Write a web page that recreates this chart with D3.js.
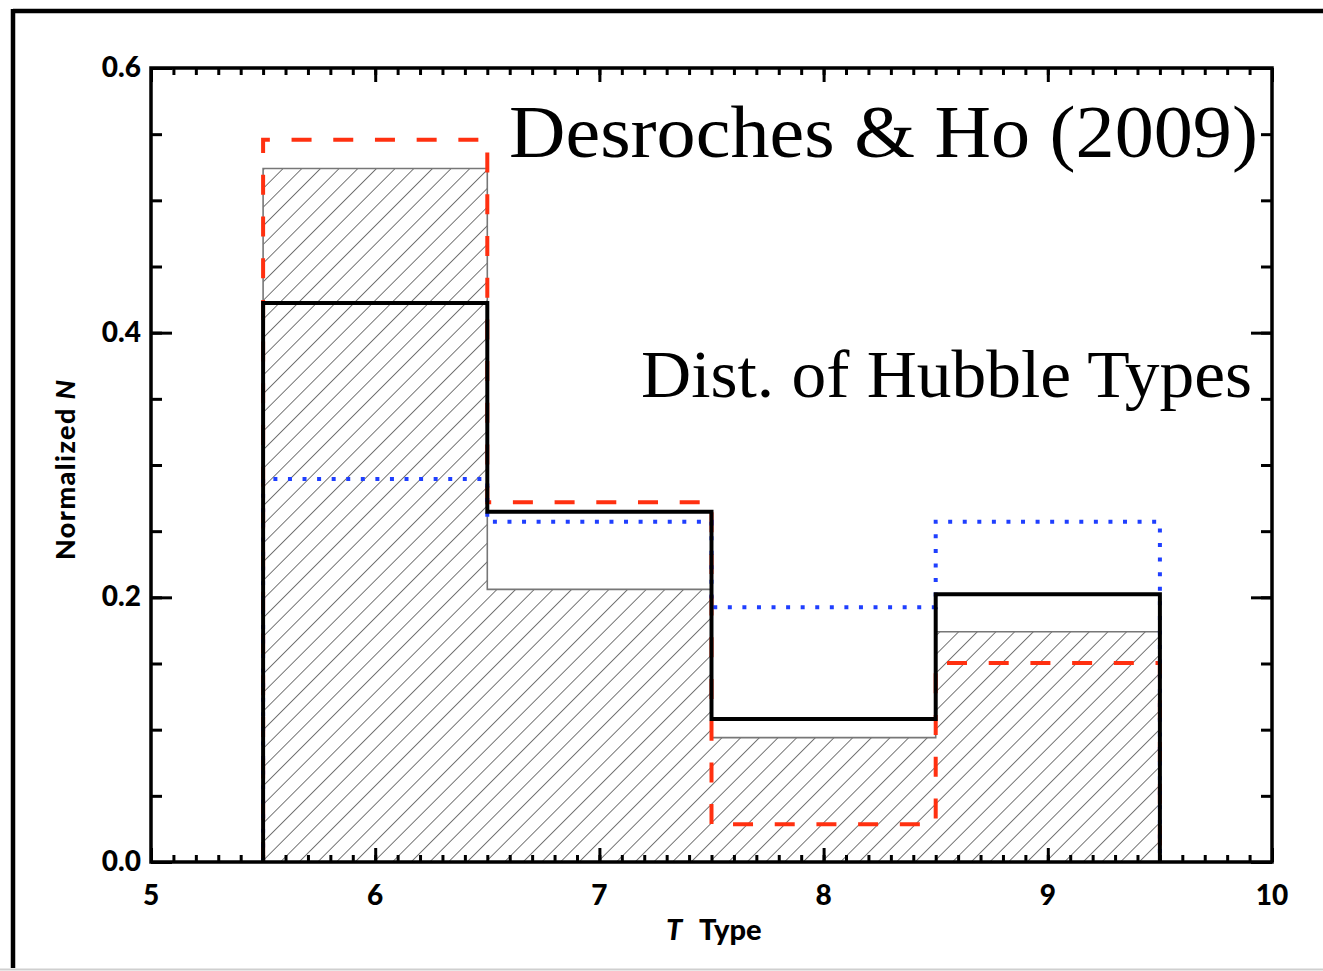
<!DOCTYPE html>
<html>
<head>
<meta charset="utf-8">
<script src="https://cdn.jsdelivr.net/npm/d3@7"></script>
<style>
  html, body { margin: 0; padding: 0; background: #fff; }
  svg { display: block; }
</style>
</head>
<body>
<svg id="chart" width="1323" height="971"></svg>
<script>
// Histogram bins (T type), one unit wide, centred on integers
const binCenters = [6, 7, 8, 9];
// Normalized counts per bin for each sample
const hatchedValues = [0.524, 0.206, 0.094, 0.174];
const solidValues   = [0.4225, 0.2647, 0.1081, 0.2023];
const dashedValues  = [0.5457, 0.2718, 0.0285, 0.1504];
const dottedValues  = [0.2895, 0.2572, 0.1925, 0.2572];
// Axis ticks
const xTickValues = [5, 6, 7, 8, 9, 10];
const xTickLabels = ["5", "6", "7", "8", "9", "10"];
const yTickValues = [0.0, 0.2, 0.4, 0.6];
const yTickLabels = ["0.0", "0.2", "0.4", "0.6"];

const svg = d3.select("#chart");
const W = 1323, H = 971;
const plot = { left: 151, right: 1272, top: 68, bottom: 862 };

const x = d3.scaleLinear().domain([5, 10]).range([plot.left, plot.right]);
const y = d3.scaleLinear().domain([0, 0.6]).range([plot.bottom, plot.top]);

// Outer page frame
svg.append("line").attr("x1", 13).attr("y1", 11).attr("x2", W).attr("y2", 11)
  .attr("stroke", "#000").attr("stroke-width", 4.5);
svg.append("line").attr("x1", 13).attr("y1", 9).attr("x2", 13).attr("y2", 968)
  .attr("stroke", "#000").attr("stroke-width", 4.5);
svg.append("line").attr("x1", 0).attr("y1", 969.5).attr("x2", W).attr("y2", 969.5)
  .attr("stroke", "#cfcfcf").attr("stroke-width", 2);

// Diagonal hatch fill
const defs = svg.append("defs");
const pat = defs.append("pattern")
  .attr("id", "hatch")
  .attr("patternUnits", "userSpaceOnUse")
  .attr("width", 13.2).attr("height", 13.2)
  .attr("patternTransform", "translate(3,0) rotate(45)");
pat.append("line").attr("x1", 0).attr("y1", -2).attr("x2", 0).attr("y2", 16)
  .attr("stroke", "#1a1a1a").attr("stroke-width", 1.2);

// Step outline of a histogram: from the baseline at the first edge to the baseline at the last
function stepPoints(values) {
  const pts = [[binCenters[0] - 0.5, 0]];
  values.forEach((v, i) => {
    pts.push([binCenters[i] - 0.5, v]);
    pts.push([binCenters[i] + 0.5, v]);
  });
  pts.push([binCenters[binCenters.length - 1] + 0.5, 0]);
  return pts;
}
const line = d3.line().x(d => x(d[0])).y(d => y(d[1]));

const g = svg.append("g");

// Hatched histogram (filled)
g.append("path")
  .attr("d", line(stepPoints(hatchedValues)) + "Z")
  .attr("fill", "url(#hatch)")
  .attr("stroke", "#777")
  .attr("stroke-width", 1.6);

// Dashed red histogram
g.append("path")
  .attr("d", line(stepPoints(dashedValues)))
  .attr("fill", "none")
  .attr("stroke", "#ff3010")
  .attr("stroke-width", 4)
  .attr("stroke-dasharray", "20,21.7");

// Dotted blue histogram
g.append("path")
  .attr("d", line(stepPoints(dottedValues)))
  .attr("fill", "none")
  .attr("stroke", "#1f3fff")
  .attr("stroke-width", 4)
  .attr("stroke-dasharray", "4,10.57");

// Solid black histogram
g.append("path")
  .attr("d", line(stepPoints(solidValues)))
  .attr("fill", "none")
  .attr("stroke", "#000")
  .attr("stroke-width", 4);

// Axes ticks on all four sides
const xMinor = d3.range(50, 101).map(v => v / 10);
const yMinor = d3.range(0, 13).map(v => v * 0.05);
function styleTicks(sel) {
  sel.select(".domain").remove();
  sel.selectAll(".tick line").attr("stroke", "#000").attr("stroke-width", 3);
  sel.selectAll(".tick text").remove();
}
const axes = svg.append("g");
axes.append("g").attr("transform", `translate(0,${plot.bottom})`)
  .call(d3.axisBottom(x).tickValues(xMinor).tickSize(-7)).call(styleTicks);
axes.append("g").attr("transform", `translate(0,${plot.bottom})`)
  .call(d3.axisBottom(x).tickValues(xTickValues).tickSize(-14)).call(styleTicks);
axes.append("g").attr("transform", `translate(0,${plot.top})`)
  .call(d3.axisTop(x).tickValues(xMinor).tickSize(-7)).call(styleTicks);
axes.append("g").attr("transform", `translate(0,${plot.top})`)
  .call(d3.axisTop(x).tickValues(xTickValues).tickSize(-14)).call(styleTicks);
axes.append("g").attr("transform", `translate(${plot.left},0)`)
  .call(d3.axisLeft(y).tickValues(yMinor).tickSize(-11)).call(styleTicks);
axes.append("g").attr("transform", `translate(${plot.left},0)`)
  .call(d3.axisLeft(y).tickValues(yTickValues).tickSize(-21)).call(styleTicks);
axes.append("g").attr("transform", `translate(${plot.right},0)`)
  .call(d3.axisRight(y).tickValues(yMinor).tickSize(-11)).call(styleTicks);
axes.append("g").attr("transform", `translate(${plot.right},0)`)
  .call(d3.axisRight(y).tickValues(yTickValues).tickSize(-21)).call(styleTicks);

// Plot frame
svg.append("rect")
  .attr("x", plot.left).attr("y", plot.top)
  .attr("width", plot.right - plot.left).attr("height", plot.bottom - plot.top)
  .attr("fill", "none").attr("stroke", "#000").attr("stroke-width", 3.5);

// Tick labels
const labelFont = "Lato, 'DejaVu Sans', sans-serif";
svg.append("g").selectAll("text").data(xTickValues).join("text")
  .attr("x", d => x(d)).attr("y", 905)
  .attr("text-anchor", "middle")
  .attr("font-family", labelFont).attr("font-weight", 900).attr("font-size", 28)
  .text((d, i) => xTickLabels[i]);
svg.append("g").selectAll("text").data(yTickValues).join("text")
  .attr("x", 141).attr("y", d => y(d) + 9)
  .attr("text-anchor", "end")
  .attr("font-family", labelFont).attr("font-weight", 900).attr("font-size", 28)
  .text((d, i) => yTickLabels[i]);

// Axis titles
const xt = svg.append("text")
  .attr("x", 666).attr("y", 940)
  .attr("font-family", labelFont).attr("font-weight", 900).attr("font-size", 29);
xt.append("tspan").attr("font-style", "italic").text("T");
xt.append("tspan").attr("x", 699).text("Type");

const yt = svg.append("text")
  .attr("transform", "translate(75,470) rotate(-90)")
  .attr("text-anchor", "middle")
  .attr("font-family", labelFont).attr("font-weight", 900).attr("font-size", 27)
  .attr("textLength", 180).attr("lengthAdjust", "spacing");
yt.append("tspan").text("Normalized ");
yt.append("tspan").attr("font-style", "italic").text("N");

// Annotations
const serif = "'Liberation Serif', 'DejaVu Serif', serif";
svg.append("text")
  .attr("x", 509).attr("y", 157)
  .attr("font-family", serif).attr("font-size", 75)
  .attr("textLength", 749).attr("lengthAdjust", "spacingAndGlyphs")
  .text("Desroches & Ho (2009)");
svg.append("text")
  .attr("x", 641).attr("y", 397)
  .attr("font-family", serif).attr("font-size", 68)
  .attr("textLength", 611).attr("lengthAdjust", "spacingAndGlyphs")
  .text("Dist. of Hubble Types");
</script>
</body>
</html>
